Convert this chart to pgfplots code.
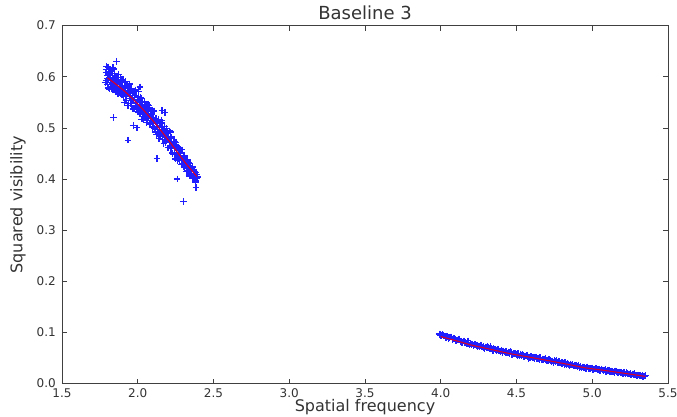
\documentclass[border=0pt]{standalone}
\usepackage{fontspec}
\setmainfont{DejaVu Sans}
\usepackage{pgfplots}
\pgfplotsset{compat=1.18}
\definecolor{ptblue}{RGB}{30,30,255}

% measured data, cluster at low frequency
\pgfplotstableread{
x y
1.792 0.614
1.795 0.593
1.798 0.603
1.801 0.585
1.803 0.619
1.806 0.594
1.808 0.605
1.811 0.576
1.813 0.598
1.816 0.611
1.818 0.585
1.821 0.602
1.823 0.592
1.826 0.613
1.828 0.577
1.831 0.603
1.834 0.587
1.836 0.618
1.839 0.579
1.842 0.596
1.845 0.590
1.848 0.606
1.851 0.570
1.854 0.599
1.857 0.579
1.860 0.589
1.863 0.599
1.866 0.581
1.869 0.567
1.872 0.592
1.875 0.604
1.878 0.575
1.881 0.587
1.884 0.569
1.887 0.591
1.890 0.577
1.893 0.595
1.896 0.564
1.899 0.577
1.902 0.595
1.905 0.565
1.908 0.577
1.911 0.550
1.914 0.588
1.917 0.566
1.920 0.578
1.923 0.554
1.926 0.582
1.929 0.568
1.932 0.577
1.935 0.573
1.938 0.547
1.941 0.579
1.944 0.562
1.947 0.586
1.950 0.554
1.953 0.563
1.956 0.548
1.959 0.577
1.962 0.553
1.965 0.567
1.968 0.537
1.971 0.568
1.974 0.554
1.977 0.559
1.980 0.539
1.983 0.572
1.986 0.544
1.989 0.564
1.992 0.550
1.995 0.539
1.998 0.556
2.001 0.531
2.004 0.571
2.007 0.541
2.010 0.555
2.013 0.530
2.016 0.546
2.019 0.535
2.022 0.557
2.025 0.517
2.028 0.544
2.031 0.550
2.034 0.527
2.037 0.538
2.040 0.531
2.043 0.552
2.046 0.521
2.049 0.541
2.052 0.530
2.055 0.545
2.058 0.511
2.061 0.534
2.064 0.519
2.067 0.546
2.070 0.522
2.073 0.535
2.076 0.507
2.079 0.523
2.082 0.535
2.085 0.511
2.088 0.532
2.091 0.514
2.094 0.535
2.097 0.501
2.100 0.521
2.104 0.513
2.108 0.533
2.112 0.499
2.116 0.512
2.120 0.518
2.124 0.487
2.128 0.512
2.132 0.497
2.136 0.517
2.140 0.491
2.144 0.501
2.148 0.484
2.152 0.508
2.156 0.492
2.160 0.510
2.164 0.484
2.168 0.495
2.172 0.469
2.176 0.496
2.180 0.486
2.184 0.471
2.188 0.499
2.192 0.476
2.196 0.491
2.200 0.461
2.204 0.480
2.208 0.494
2.212 0.466
2.216 0.480
2.220 0.459
2.224 0.482
2.228 0.465
2.232 0.449
2.236 0.470
2.240 0.471
2.244 0.448
2.248 0.462
2.252 0.472
2.256 0.448
2.260 0.436
2.264 0.463
2.268 0.451
2.272 0.440
2.276 0.460
2.280 0.441
2.284 0.451
2.288 0.428
2.292 0.457
2.296 0.437
2.300 0.442
2.304 0.425
2.308 0.446
2.312 0.426
2.316 0.433
2.320 0.414
2.324 0.436
2.328 0.426
2.332 0.417
2.336 0.433
2.340 0.419
2.344 0.426
2.348 0.408
2.352 0.421
2.356 0.411
2.360 0.423
2.364 0.401
2.368 0.414
2.372 0.403
2.376 0.410
2.380 0.397
2.384 0.384
2.388 0.409
1.785 0.589
1.790 0.608
1.795 0.620
1.800 0.597
1.805 0.578
1.810 0.608
1.815 0.599
1.820 0.588
1.825 0.610
1.830 0.577
1.835 0.597
1.840 0.615
1.845 0.585
1.850 0.578
1.855 0.597
1.860 0.587
1.865 0.599
1.870 0.566
1.875 0.590
1.880 0.578
1.885 0.598
1.890 0.569
1.895 0.579
1.900 0.588
1.905 0.561
1.910 0.579
1.915 0.572
1.920 0.591
1.925 0.561
1.930 0.583
1.935 0.544
1.940 0.569
1.945 0.573
1.950 0.557
1.955 0.577
1.960 0.547
1.965 0.556
1.970 0.569
1.975 0.537
1.980 0.560
1.985 0.574
1.990 0.544
1.995 0.549
2.000 0.537
2.005 0.556
2.010 0.549
2.015 0.527
2.020 0.559
2.025 0.535
2.030 0.546
2.035 0.517
2.040 0.537
2.045 0.546
2.050 0.524
2.055 0.545
2.060 0.525
2.065 0.515
2.070 0.532
2.075 0.544
2.080 0.508
2.085 0.521
2.090 0.527
2.095 0.511
2.100 0.532
2.105 0.503
2.110 0.514
2.115 0.492
2.120 0.519
2.125 0.511
2.130 0.502
2.135 0.516
2.140 0.479
2.145 0.505
2.150 0.488
2.155 0.514
2.160 0.493
2.165 0.478
2.170 0.497
2.175 0.503
2.180 0.482
2.185 0.473
2.190 0.494
2.195 0.482
2.200 0.461
2.205 0.483
2.210 0.473
2.215 0.492
2.220 0.462
2.225 0.472
2.230 0.451
2.235 0.474
2.240 0.459
2.245 0.473
2.250 0.439
2.255 0.460
2.260 0.461
2.265 0.446
2.270 0.462
2.275 0.437
2.280 0.446
2.285 0.457
2.290 0.437
2.295 0.431
2.300 0.442
2.305 0.444
2.310 0.422
2.315 0.434
2.320 0.435
2.325 0.420
2.330 0.438
2.335 0.421
2.340 0.406
2.345 0.430
2.350 0.422
2.355 0.411
2.360 0.425
2.365 0.404
2.370 0.411
2.375 0.415
2.380 0.394
2.385 0.413
2.390 0.401
2.395 0.404
1.840 0.520
1.936 0.476
2.127 0.440
2.300 0.356
2.260 0.400
1.995 0.500
2.160 0.534
2.015 0.580
1.860 0.630
2.180 0.530
1.970 0.505
}\lowdata

% measured data, cluster at high frequency
\pgfplotstableread{
x y
3.99 0.0970
4.00 0.0935
4.01 0.0961
4.02 0.0927
4.03 0.0923
4.04 0.0929
4.05 0.0885
4.06 0.0901
4.07 0.0912
4.08 0.0868
4.09 0.0879
4.10 0.0845
4.11 0.0856
4.12 0.0872
4.13 0.0828
4.14 0.0804
4.15 0.0830
4.16 0.0806
4.17 0.0787
4.18 0.0808
4.19 0.0754
4.20 0.0775
4.21 0.0773
4.22 0.0751
4.23 0.0765
4.24 0.0728
4.25 0.0736
4.26 0.0754
4.27 0.0712
4.28 0.0721
4.29 0.0689
4.30 0.0712
4.31 0.0730
4.32 0.0683
4.33 0.0682
4.34 0.0660
4.35 0.0683
4.36 0.0666
4.37 0.0644
4.38 0.0668
4.39 0.0636
4.40 0.0644
4.41 0.0602
4.42 0.0620
4.43 0.0629
4.44 0.0597
4.45 0.0605
4.46 0.0624
4.47 0.0574
4.48 0.0583
4.49 0.0588
4.50 0.0567
4.51 0.0586
4.52 0.0541
4.53 0.0560
4.54 0.0565
4.55 0.0534
4.56 0.0538
4.57 0.0558
4.58 0.0522
4.59 0.0507
4.60 0.0526
4.61 0.0515
4.62 0.0495
4.63 0.0519
4.64 0.0494
4.65 0.0468
4.66 0.0497
4.67 0.0482
4.68 0.0466
4.69 0.0496
4.70 0.0450
4.71 0.0454
4.72 0.0458
4.73 0.0427
4.74 0.0441
4.75 0.0450
4.76 0.0419
4.77 0.0408
4.78 0.0427
4.79 0.0406
4.80 0.0380
4.81 0.0404
4.82 0.0413
4.83 0.0377
4.84 0.0381
4.85 0.0355
4.86 0.0364
4.87 0.0373
4.88 0.0342
4.89 0.0356
4.90 0.0335
4.91 0.0354
4.92 0.0328
4.93 0.0307
4.94 0.0321
4.95 0.0320
4.96 0.0296
4.97 0.0327
4.98 0.0293
4.99 0.0294
5.00 0.0305
5.01 0.0266
5.02 0.0287
5.03 0.0288
5.04 0.0269
5.05 0.0260
5.06 0.0286
5.07 0.0262
5.08 0.0263
5.09 0.0239
5.10 0.0260
5.11 0.0261
5.12 0.0237
5.13 0.0238
5.14 0.0224
5.15 0.0250
5.16 0.0231
5.17 0.0206
5.18 0.0227
5.19 0.0212
5.20 0.0203
5.21 0.0218
5.22 0.0189
5.23 0.0199
5.24 0.0190
5.25 0.0195
5.26 0.0166
5.27 0.0181
5.28 0.0192
5.29 0.0162
5.30 0.0163
5.31 0.0148
5.32 0.0164
5.33 0.0154
5.34 0.0140
5.35 0.0155
3.995 0.0960
4.005 0.0936
4.015 0.0952
4.025 0.0928
4.035 0.0904
4.045 0.0920
4.055 0.0896
4.065 0.0912
4.075 0.0873
4.085 0.0879
4.095 0.0865
4.105 0.0836
4.115 0.0857
4.125 0.0853
4.135 0.0824
4.145 0.0810
4.155 0.0836
4.165 0.0802
4.175 0.0778
4.185 0.0789
4.195 0.0785
4.205 0.0762
4.215 0.0740
4.225 0.0768
4.235 0.0747
4.245 0.0745
4.255 0.0723
4.265 0.0746
4.275 0.0714
4.285 0.0698
4.295 0.0716
4.305 0.0699
4.315 0.0707
4.325 0.0675
4.335 0.0684
4.345 0.0647
4.355 0.0675
4.365 0.0658
4.375 0.0671
4.385 0.0640
4.395 0.0628
4.405 0.0636
4.415 0.0639
4.425 0.0602
4.435 0.0611
4.445 0.0614
4.455 0.0592
4.465 0.0617
4.475 0.0576
4.485 0.0581
4.495 0.0580
4.505 0.0554
4.515 0.0574
4.525 0.0578
4.535 0.0548
4.545 0.0547
4.555 0.0531
4.565 0.0551
4.575 0.0535
4.585 0.0505
4.595 0.0529
4.605 0.0508
4.615 0.0508
4.625 0.0517
4.635 0.0487
4.645 0.0496
4.655 0.0505
4.665 0.0465
4.675 0.0474
4.685 0.0479
4.695 0.0458
4.705 0.0447
4.715 0.0466
4.725 0.0450
4.735 0.0439
4.745 0.0413
4.755 0.0437
4.765 0.0446
4.775 0.0410
4.785 0.0399
4.795 0.0408
4.805 0.0412
4.815 0.0376
4.825 0.0385
4.835 0.0389
4.845 0.0368
4.855 0.0387
4.865 0.0366
4.875 0.0345
4.885 0.0349
4.895 0.0358
4.905 0.0332
4.915 0.0316
4.925 0.0335
4.935 0.0324
4.945 0.0313
4.955 0.0298
4.965 0.0324
4.975 0.0295
4.985 0.0301
4.995 0.0302
5.005 0.0273
5.015 0.0284
5.025 0.0295
5.035 0.0271
5.045 0.0282
5.055 0.0258
5.065 0.0269
5.075 0.0260
5.085 0.0276
5.095 0.0237
5.105 0.0253
5.115 0.0239
5.125 0.0250
5.135 0.0236
5.145 0.0222
5.155 0.0243
5.165 0.0229
5.175 0.0214
5.185 0.0215
5.195 0.0220
5.205 0.0196
5.215 0.0206
5.225 0.0212
5.235 0.0187
5.245 0.0188
5.255 0.0168
5.265 0.0189
5.275 0.0179
5.285 0.0170
5.295 0.0160
5.305 0.0171
5.315 0.0161
5.325 0.0152
5.335 0.0137
5.345 0.0148
4.18 0.0835
4.33 0.0725
4.58 0.0490
}\highdata

\begin{document}
\begin{tikzpicture}
\useasboundingbox (-62pt,-33.4pt) rectangle (615pt,383.6pt);
\begin{axis}[
    at={(0,0)}, anchor=south west,
    scale only axis,
    width=606pt, height=358pt,
    xmin=1.5, xmax=5.5, ymin=0, ymax=0.7,
    xtick={1.5,2.0,...,5.5},
    ytick={0,0.1,...,0.7},
    tick align=inside,
    major tick length=5pt,
    minor tick num=0,
    clip marker paths=true,
    axis line style={line width=0.8pt, black!75},
    tick style={line width=0.6pt, black!75},
    /pgf/number format/assume math mode=true,
    /pgf/number format/.cd, fixed, fixed zerofill, precision=1, /pgfplots/.cd,
    ticklabel style={font=\fontsize{12}{14}\selectfont, text=black!80},
    xticklabel style={anchor=base, yshift=-14pt},
    yticklabel style={anchor=east, inner sep=0pt, xshift=-6pt},
    title={Baseline 3},
    title style={font=\fontsize{18}{21}\selectfont, text=black!80, at={(0.5,1)}, anchor=base, yshift=0pt},
    xlabel={Spatial frequency},
    ylabel={Squared visibility},
    label style={font=\fontsize{16}{19}\selectfont, text=black!80},
    xlabel style={at={(0.5,0)}, anchor=base, yshift=-28pt},
    ylabel style={at={(axis description cs:-0.0726,0.5)}, anchor=center},
]
\addplot[only marks, mark=+, mark size=3.3pt, color=ptblue, mark options={line width=1.2pt}] table[x=x, y=y] {\lowdata};
\addplot[only marks, mark=+, mark size=3.3pt, color=ptblue, mark options={line width=1.2pt}] table[x=x, y=y] {\highdata};
% model curve
\addplot[red!85!blue, line width=1.1pt, smooth] coordinates {
    (1.80,0.598) (1.90,0.575) (2.00,0.547) (2.10,0.514) (2.20,0.477)
    (2.30,0.437) (2.35,0.419) (2.39,0.405)
};
\addplot[red!85!blue, line width=1.1pt, smooth] coordinates {
    (4.00,0.092) (4.10,0.084) (4.20,0.0755) (4.30,0.069) (4.45,0.059)
    (4.60,0.051) (4.70,0.0455) (4.85,0.037) (4.95,0.031) (5.05,0.027)
    (5.15,0.0228) (5.25,0.0185) (5.35,0.014)
};
\end{axis}
\end{tikzpicture}
\end{document}
